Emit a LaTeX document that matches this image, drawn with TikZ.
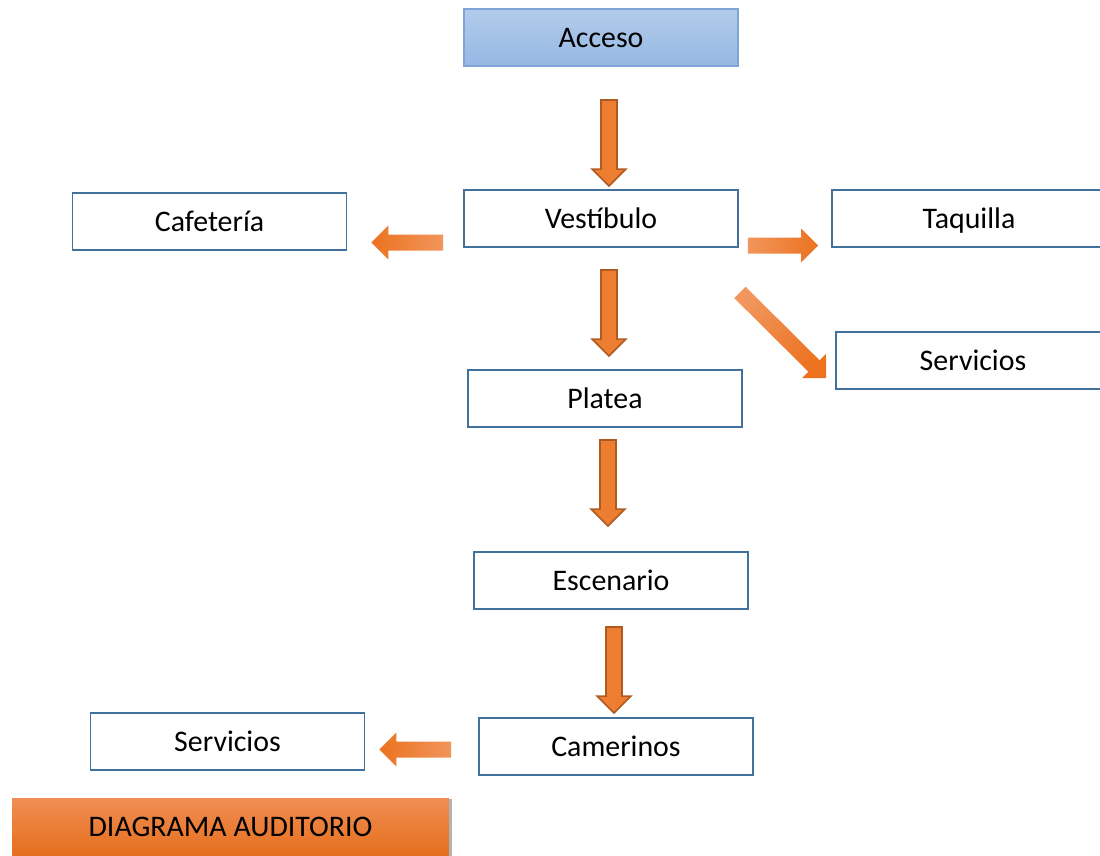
\documentclass[tikz,border=0pt]{standalone}
\usepackage{fontspec}
\setmainfont{Carlito}
\usetikzlibrary{calc,shadows}
\definecolor{borde}{RGB}{65,113,156}
\definecolor{naranja}{RGB}{237,125,49}
\definecolor{naranjaosc}{RGB}{174,90,33}
\definecolor{naranjaclaro}{RGB}{241,150,92}
\definecolor{naranjafuerte}{RGB}{236,114,32}
\tikzset{
	caja/.style={draw=borde, line width=1.1pt, fill=white, minimum width=5.48cm, minimum height=1.14cm, text height=12.5pt, text depth=1.5pt, font=\fontsize{17}{20}\selectfont},
	cajaazul/.style={caja, draw={rgb,255:red,126;green,165;blue,216}, top color={rgb,255:red,178;green,204;blue,235}, bottom color={rgb,255:red,150;green,184;blue,227}},
	titulo/.style={minimum width=8.74cm, minimum height=1.16cm, text height=12.5pt, text depth=1.5pt, font=\fontsize{17}{20}\selectfont, top color={rgb,255:red,240;green,142;blue,84}, middle color={rgb,255:red,241;green,124;blue,40}, bottom color={rgb,255:red,229;green,110;blue,28}, drop shadow={shadow xshift=1.6pt, shadow yshift=-0.6pt, opacity=.3, fill=black}},
	fvertical/.style={fill=naranja, draw=naranjaosc, line width=0.9pt, line join=miter},
	fderecha/.style={left color=naranjaclaro, right color=naranjafuerte},
	fizquierda/.style={left color=naranjafuerte, right color=naranjaclaro},
	fdiagonal/.style={top color=naranjaclaro, bottom color=naranjafuerte, shading angle=45}
}
% block arrow from #2 (tail) to #3 (tip)
\newcommand\flecha[3][]{%
	\coordinate (fbase) at ($(#3)!0.34cm!(#2)$);
	\path[#1] ($(#2)!0.16cm!90:(#3)$) -- ($(fbase)!0.16cm!90:(#3)$) -- ($(fbase)!0.34cm!90:(#3)$) -- (#3) -- ($(fbase)!0.34cm!-90:(#3)$) -- ($(fbase)!0.16cm!-90:(#3)$) -- ($(#2)!0.16cm!-90:(#3)$) -- cycle;
}

\begin{document}
\begin{tikzpicture}[x=0.02cm, y=-0.02cm]
	%%%%% START %%%%%
	\useasboundingbox (0, 0) rectangle (1100, 856);
	
	\node[cajaazul] (acceso) at (601, 37.5) {Acceso};
	\node[caja] (vestibulo) at (601, 218.5) {Vestíbulo};
	\node[caja] (cafeteria) at (209.5, 221.5) {Cafetería};
	\node[caja] (taquilla) at (969, 218.5) {Taquilla};
	\node[caja] (servicios1) at (973, 360.5) {Servicios};
	\node[caja] (platea) at (605, 398.5) {Platea};
	\node[caja] (escenario) at (611, 580.5) {Escenario};
	\node[caja] (camerinos) at (616, 746.5) {Camerinos};
	\node[caja] (servicios2) at (227.5, 741.5) {Servicios};
	\node[titulo] (diagrama) at (230.5, 827) {DIAGRAMA AUDITORIO};
	
	%% vertical arrows
	\coordinate (t1) at ($(acceso.south)+(8, 33)$);
	\coordinate (p1) at ($(vestibulo.north)+(8, -3)$);
	\flecha[fvertical]{t1}{p1}
	
	\coordinate (t2) at ($(vestibulo.south)+(8, 22)$);
	\coordinate (p2) at ($(platea.north)+(4, -13)$);
	\flecha[fvertical]{t2}{p2}
	
	\coordinate (t3) at ($(platea.south)+(3, 12)$);
	\coordinate (p3) at ($(escenario.north)+(-3, -25)$);
	\flecha[fvertical]{t3}{p3}
	
	\coordinate (t4) at ($(escenario.south)+(3, 17)$);
	\coordinate (p4) at ($(camerinos.north)+(-2, -4)$);
	\flecha[fvertical]{t4}{p4}
	
	%% side arrows
	\coordinate (t5) at ($(vestibulo.west)+(-20, 24)$);
	\coordinate (p5) at ($(cafeteria.east)+(24, 21)$);
	\flecha[fizquierda]{t5}{p5}
	
	\coordinate (t6) at ($(vestibulo.east)+(9, 27)$);
	\coordinate (p6) at ($(taquilla.west)+(-13, 27)$);
	\flecha[fderecha]{t6}{p6}
	
	\coordinate (t7) at ($(vestibulo.south east)+(1, 44.5)$);
	\coordinate (p7) at ($(servicios1.west)+(-9, 17.5)$);
	\flecha[fdiagonal]{t7}{p7}
	
	\coordinate (t8) at ($(camerinos.west)+(-27, 3)$);
	\coordinate (p8) at ($(servicios2.east)+(14, 8)$);
	\flecha[fizquierda]{t8}{p8}
	
	%%%%% END %%%%%
\end{tikzpicture}
\end{document}
